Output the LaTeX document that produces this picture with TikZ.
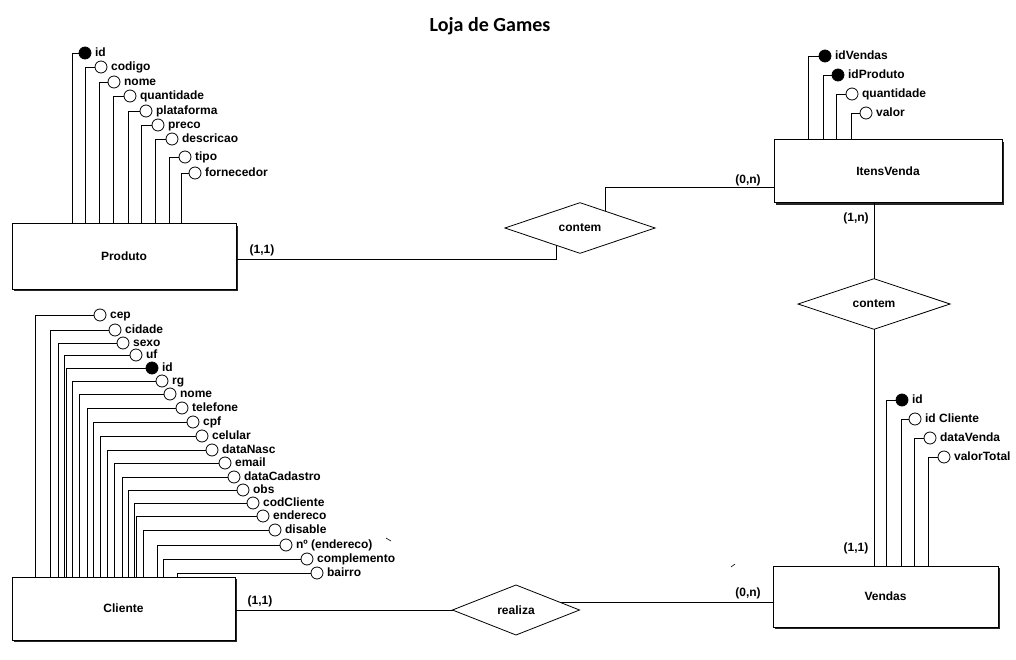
\documentclass[tikz,border=0pt]{standalone}
\usepackage{fontspec}
\setmainfont{Liberation Sans}
\newfontfamily\titlefont{Carlito}
\usetikzlibrary{shapes.geometric,shadows}
\tikzset{
  lf/.style={font=\bfseries\fontsize{12}{14}\selectfont},
  ent/.style={draw, line width=1pt, fill=white, rectangle, inner sep=0pt, lf,
    drop shadow={shadow xshift=2pt, shadow yshift=-2pt, fill=black!85, opacity=1}},
  rel/.style={draw, diamond, fill=white, line width=0.8pt, inner sep=0pt, outer sep=0pt, lf},
  pk/.style={circle, draw, fill=black, minimum size=12pt, inner sep=0pt, line width=0.8pt},
  att/.style={circle, draw, fill=white, minimum size=12pt, inner sep=0pt, line width=0.8pt},
  lbl/.style={anchor=west, inner sep=1pt, xshift=2.5pt, text height=9pt, text depth=2.5pt, lf},
  card/.style={inner sep=0pt, lf},
  conn/.style={line width=0.8pt},
}
\begin{document}
\begin{tikzpicture}[x=1pt,y=-1pt]
\useasboundingbox[fill=white] (0,0) rectangle (1016,660);

\node[font=\titlefont\bfseries\fontsize{20}{24}\selectfont, anchor=base] (title) at (490,32) {Loja de Games};

% entities
\node[ent, minimum width=224pt, minimum height=65pt] (produto) at (124,256.5) {Produto};
\node[ent, minimum width=228pt, minimum height=63pt] (itens) at (888,171.5) {ItensVenda};
\node[ent, minimum width=223pt, minimum height=63pt] (cliente) at (123.5,608.5) {Cliente};
\node[ent, minimum width=225pt, minimum height=61pt] (vendas) at (885.5,596.5) {Vendas};

% relationships
\node[rel, minimum width=150pt, minimum height=50pt] (contem1) at (580,228) {contem};
\node[rel, minimum width=152pt, minimum height=50pt] (contem2) at (874,304) {contem};
\node[rel, minimum width=127pt, minimum height=50pt] (realiza) at (516,610) {realiza};

% connectors
\coordinate (j1) at (556,259);
\draw[conn] (produto.east |- j1) -- (j1) -- (j1 |- contem1.215.3);
\coordinate (j2) at (605,187);
\draw[conn] (j2 |- contem1.33.7) -- (j2) -- (j2 -| itens.west);
\draw[conn] (contem2.north) -- (contem2.north |- itens.south);
\draw[conn] (contem2.south) -- (contem2.south |- vendas.north);
\draw[conn] (cliente.east |- realiza.west) -- (realiza.west);
\draw[conn] (realiza.10.5) -- (realiza.10.5 -| vendas.west);

% cardinalities
\node[card] (k1) at (262,250) {(1,1)};
\node[card] (k2) at (748,180) {(0,n)};
\node[card] (k3) at (856,218) {(1,n)};
\node[card] (k4) at (856,548) {(1,1)};
\node[card] (k5) at (260,601) {(1,1)};
\node[card] (k6) at (748,593) {(0,n)};

% Produto attributes
\foreach \nm/\s/\x/\y/\t/\v in {
  p1/pk/85/53/id/72,
  p2/att/101/67/codigo/85,
  p3/att/114/82/nome/99,
  p4/att/130/96/quantidade/113,
  p5/att/146/111/plataforma/128,
  p6/att/158/125/preco/141,
  p7/att/172/139/descricao/155,
  p8/att/185/157/tipo/169,
  p9/att/195/173/fornecedor/181}{
  \node[\s] (\nm) at (\x,\y) {};
  \node[lbl] at (\nm.east) {\t};
  \draw[conn] (\nm.west) -| (\v,0 |- produto.north);
}

% ItensVenda attributes
\foreach \nm/\s/\x/\y/\t/\v in {
  i1/pk/825/56/idVendas/808,
  i2/pk/838/75/idProduto/823,
  i3/att/852/94/quantidade/836,
  i4/att/866/113/valor/851}{
  \node[\s] (\nm) at (\x,\y) {};
  \node[lbl] at (\nm.east) {\t};
  \draw[conn] (\nm.west) -| (\v,0 |- itens.north);
}

% Vendas attributes
\foreach \nm/\s/\x/\y/\t/\v in {
  v1/pk/902/400/id/886,
  v2/att/915/419/id Cliente/901,
  v3/att/930/438/dataVenda/914,
  v4/att/944/457/valorTotal/928}{
  \node[\s] (\nm) at (\x,\y) {};
  \node[lbl] at (\nm.east) {\t};
  \draw[conn] (\nm.west) -| (\v,0 |- vendas.north);
}

% Cliente attributes
\foreach \nm/\s/\x/\y/\t/\v in {
  c1/att/100/315/cep/35,
  c2/att/115/330/cidade/50,
  c3/att/123/343/sexo/58,
  c4/att/136/355/uf/64,
  c5/pk/152/368/id/66,
  c6/att/162/381/rg/72,
  c7/att/170/394/nome/79,
  c8/att/182/408/telefone/87,
  c9/att/193/422/cpf/93,
  c10/att/202/436/celular/100,
  c11/att/212/450/dataNasc/107,
  c12/att/225/463/email/114,
  c13/att/234/477/dataCadastro/122,
  c14/att/243/490/obs/128,
  c15/att/253/503/codCliente/134,
  c16/att/263/516/endereco/136,
  c17/att/275/530/disable/143,
  c18/att/286/545/nº (endereco)/157,
  c19/att/307/559/complemento/163,
  c20/att/317/573/bairro/177}{
  \node[\s] (\nm) at (\x,\y) {};
  \node[lbl] at (\nm.east) {\t};
  \draw[conn] (\nm.west) -| (\v,0 |- cliente.north);
}

% small stray marks
\draw[line width=0.6pt] (386,538) -- (391,541);
\draw[line width=0.6pt] (731,567) -- (735,564);
\end{tikzpicture}
\end{document}
